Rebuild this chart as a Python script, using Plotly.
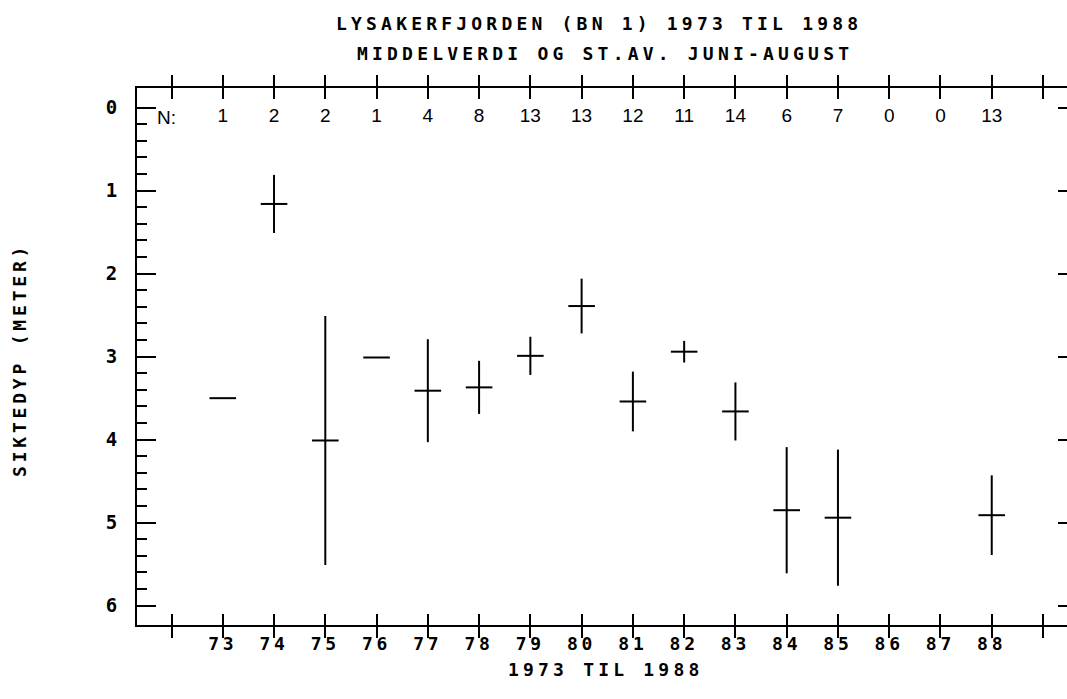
import plotly.graph_objects as go

# ---- data ----
years = [73, 74, 75, 76, 77, 78, 79, 80, 81, 82, 83, 84, 85, 88]
mean_depth = [3.50, 1.16, 4.01, 3.01, 3.41, 3.37, 2.99, 2.39, 3.54, 2.94, 3.66, 4.85, 4.94, 4.91]
std_dev = [0.0, 0.35, 1.50, 0.0, 0.62, 0.32, 0.23, 0.33, 0.36, 0.13, 0.35, 0.76, 0.82, 0.48]

n_years = [73, 74, 75, 76, 77, 78, 79, 80, 81, 82, 83, 84, 85, 86, 87, 88]
n_counts = [1, 2, 2, 1, 4, 8, 13, 13, 12, 11, 14, 6, 7, 0, 0, 13]

x_ticks = list(range(72, 90))
x_labels = [str(y) if 73 <= y <= 88 else "" for y in x_ticks]
y_ticks = [0, 1, 2, 3, 4, 5, 6]
y_labels = ["0", "1", "2", "3", "4", "5", "6"]

title1 = "LYSAKERFJORDEN (BN 1) 1973 TIL 1988"
title2 = "MIDDELVERDI OG ST.AV. JUNI-AUGUST"
x_title = "1973 TIL 1988"
y_title = "SIKTEDYP (METER)"

# ---- layout geometry ----
W, H = 1067, 699
L, R, T, B = 137, 0, 88, 74
PW, PH = W - L - R, H - T - B

def px_x(px):
    return (px - L) / PW

def px_y(py):
    return (H - B - py) / PH

FONT = "DejaVu Sans Mono"
NFONT = "Liberation Sans Narrow, Liberation Sans, Arial"

def sp(txt, s=3.6):
    return f'<span style="letter-spacing:{s}px">{txt}</span>'

fig = go.Figure()

fig.add_trace(go.Scatter(
    x=years, y=mean_depth, mode="markers",
    marker=dict(symbol="line-ew", size=19, color="black",
                line=dict(width=2, color="black")),
    error_y=dict(type="data", array=std_dev, visible=True, width=0,
                 thickness=2, color="black"),
    hoverinfo="x+y", showlegend=False,
))

fig.add_trace(go.Scatter(
    x=n_years, y=[0.12] * len(n_years), mode="text",
    text=[str(n) for n in n_counts],
    textfont=dict(family=NFONT, size=19, color="black"),
    hoverinfo="skip", showlegend=False,
))

# helper trace so the right-hand tick axis is drawn
fig.add_trace(go.Scatter(
    x=[years[0]], y=[mean_depth[0]], yaxis="y2", mode="markers",
    marker=dict(opacity=0), hoverinfo="skip", showlegend=False,
))

title_font = dict(family=FONT, size=18, color="black", weight="bold")
xtick_font = dict(family=FONT, size=18, color="black", weight="bold")
ytick_font = dict(family=FONT, size=19, color="black", weight="bold")

fig.update_layout(
    width=W, height=H,
    margin=dict(l=L, r=R, t=T, b=B, pad=0),
    paper_bgcolor="white", plot_bgcolor="white",
    showlegend=False,
    xaxis=dict(
        range=[71.327, 89.468],
        tickmode="array", tickvals=x_ticks, ticktext=[sp(t, 3.8) if t else "" for t in x_labels],
        ticks="inside", ticklen=11, tickwidth=2, tickcolor="black",
        showline=True, linewidth=2, linecolor="black", mirror="allticks",
        showgrid=False, zeroline=False, tickfont=xtick_font,
        ticklabelstandoff=1,
    ),
    yaxis=dict(
        range=[6.233, -0.237],
        tickmode="array", tickvals=y_ticks, ticktext=y_labels,
        ticks="inside", ticklen=19, tickwidth=2, tickcolor="black",
        minor=dict(tickmode="array",
                   tickvals=[i / 5 for i in range(1, 31) if i % 5],
                   ticks="inside", ticklen=10, tickwidth=2, tickcolor="black",
                   showgrid=False),
        showline=True, linewidth=2, linecolor="black", mirror=False,
        showgrid=False, zeroline=False, tickfont=ytick_font,
        ticklabelstandoff=14,
    ),
    yaxis2=dict(
        overlaying="y", side="right", anchor="x",
        range=[6.233, -0.237],
        tickmode="array", tickvals=y_ticks,
        ticks="inside", ticklen=9, tickwidth=2, tickcolor="black",
        showticklabels=False, showline=False, showgrid=False, zeroline=False,
    ),
    annotations=[
        dict(text=sp(title1, 4.2), x=px_x(599), y=px_y(24), xref="paper", yref="paper",
             showarrow=False, xanchor="center", yanchor="middle", font=title_font),
        dict(text=sp(title2, 4.2), x=px_x(605), y=px_y(53), xref="paper", yref="paper",
             showarrow=False, xanchor="center", yanchor="middle", font=title_font),
        dict(text=sp(x_title, 4.2), x=px_x(605), y=px_y(669), xref="paper", yref="paper",
             showarrow=False, xanchor="center", yanchor="middle", font=title_font),
        dict(text=sp(y_title, 3.8), x=px_x(19), y=px_y(360), xref="paper", yref="paper",
             showarrow=False, xanchor="center", yanchor="middle", textangle=-90, font=title_font),
        dict(text="N:", x=71.9, y=0.12, xref="x", yref="y", showarrow=False,
             xanchor="center", yanchor="middle",
             font=dict(family=NFONT, size=19, color="black")),
    ],
)

fig.write_html(
    "out.html",
    config={"displayModeBar": False},
    post_script="document.body.style.margin='0';document.body.style.overflow='hidden';",
)
